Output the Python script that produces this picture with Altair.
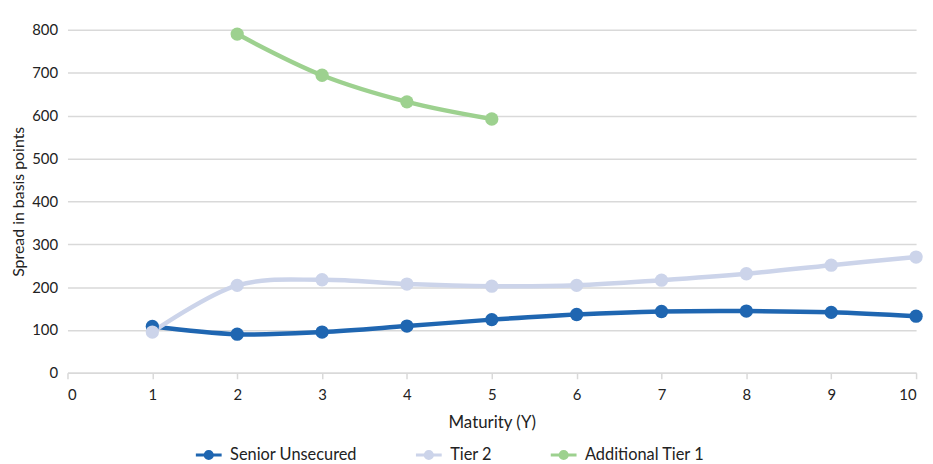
import altair as alt
import pandas as pd

series = ["Senior Unsecured", "Tier 2", "Additional Tier 1"]
colors = ["#1f66b1", "#ccd4ea", "#9dd18f"]

maturity = [1, 2, 3, 4, 5, 6, 7, 8, 9, 10]
senior = [108, 90, 95, 109, 124, 136, 143, 144, 141, 132]
tier2 = [95, 204, 217, 207, 202, 204, 216, 231, 251, 270]
at1_maturity = [2, 3, 4, 5]
at1 = [790, 694, 632, 592]

rows = []
for m, v in zip(maturity, senior):
    rows.append({"Maturity": m, "Spread": v, "Series": series[0], "ord": 0})
for m, v in zip(maturity, tier2):
    rows.append({"Maturity": m, "Spread": v, "Series": series[1], "ord": 1})
for m, v in zip(at1_maturity, at1):
    rows.append({"Maturity": m, "Spread": v, "Series": series[2], "ord": 2})
df = pd.DataFrame(rows)

FONT = "Lato"
sym = "M-1,0L1,0M0.28,0A0.28,0.28 0 1,1 -0.28,0A0.28,0.28 0 1,1 0.28,0Z"

color = alt.Color(
    "Series:N",
    scale=alt.Scale(domain=series, range=colors),
    sort=series,
    legend=alt.Legend(
        title=None, orient="none", direction="horizontal",
        legendX=128, legendY=414,
        symbolType=sym, symbolSize=676, symbolStrokeWidth=3,
        labelFontSize=16.5, labelFont=FONT, labelColor="#222", labelOffset=7,
        columnPadding=52, symbolOffset=0,
    ),
)

x = alt.X("Maturity:Q", scale=alt.Scale(domain=[0, 10], nice=False),
          axis=alt.Axis(title="Maturity (Y)", values=list(range(0, 11)), grid=False,
                        domain=True, domainColor="#d9d9d9", domainWidth=1.5,
                        ticks=True, tickColor="#d9d9d9", tickSize=6, tickWidth=1.5,
                        labelFontSize=15, labelFont=FONT, labelColor="#222",
                        titleFontSize=17, titleFont=FONT, titleFontWeight="normal",
                        titleColor="#222", labelPadding=9, titlePadding=12))
y = alt.Y("Spread:Q", scale=alt.Scale(domain=[0, 800], nice=False),
          axis=alt.Axis(title="Spread in basis points", values=list(range(0, 900, 100)),
                        grid=True, gridColor="#d9d9d9", gridWidth=1.5,
                        domain=False, ticks=False,
                        labelFontSize=15, labelFont=FONT, labelColor="#222",
                        titleFontSize=16, titleFont=FONT, titleFontWeight="normal",
                        titleColor="#222", labelPadding=10, titlePadding=5))

base = alt.Chart(df)
lines = base.mark_line(interpolate="catmull-rom", strokeWidth=4.5).encode(
    x=x, y=y, color=color, detail="Series:N", order="Maturity:Q"
)
points = base.mark_circle(size=180, opacity=1).encode(
    x=x, y=y, color=color, order="ord:Q"
)

chart = alt.layer(lines, points).properties(
    width=856, height=346,
    autosize=alt.AutoSizeParams(type="none"),
    padding={"left": 60, "top": 20, "right": 9, "bottom": 90},
).configure_view(stroke=None)

chart.save("out.html", embed_options={"renderer": "svg", "actions": False})
